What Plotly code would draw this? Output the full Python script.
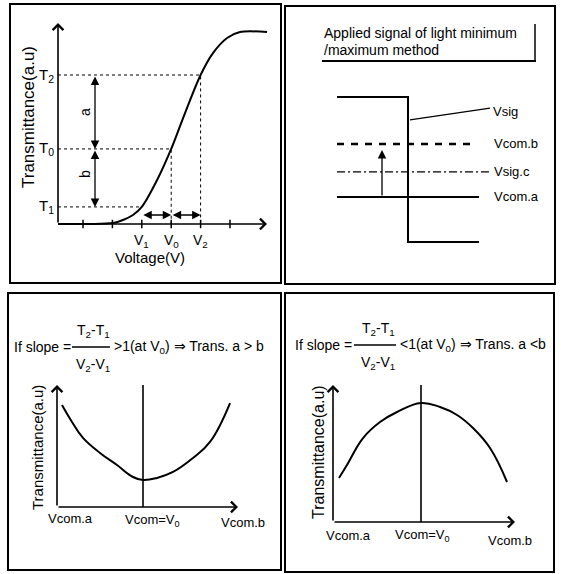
import plotly.graph_objects as go

W, H = 561, 574
FONT = "Liberation Sans, Arial, Helvetica, sans-serif"

# ---------------- data ----------------
# (a) transmittance-voltage curve
volt = [0.15, 1.2, 2.02, 2.36, 2.70, 3.0, 3.52, 4.0, 4.47, 5.0, 5.42, 5.90, 6.34, 7.26]
trans = [0.0, 0.0, 0.005, 0.021, 0.047, 0.089, 0.229, 0.391, 0.578, 0.776, 0.89, 0.969, 1.0, 1.0]
volt_ticks = [1, 2, 3, 4, 5, 6]
v_names = ["V<sub>1</sub>", "V<sub>0</sub>", "V<sub>2</sub>"]
v_vals = [3.0, 4.0, 5.0]
t_names = ["T<sub>1</sub>", "T<sub>0</sub>", "T<sub>2</sub>"]
t_vals = [0.089, 0.391, 0.776]

# (b) applied signal of light minimum / maximum method
sig_t = [0, 1, 1, 2]
sig_v = [1, 1, -1, -1]
level_names = ["Vcom.b", "Vsig.c", "Vcom.a"]
level_vals = [0.352, -0.034, -0.379]
level_ends = [1.92, 2.15, 2.0]
level_dash = ["7px,7px", "8px,3px,2px,3px", "solid"]
shift_t = 0.634
shift_tip = 0.269

# (c) slope > 1 : minimum at Vcom = V0
c_vcom = [-0.953, -0.835, -0.706, -0.506, -0.306, -0.118, 0.0, 0.165, 0.353, 0.588, 0.788, 1.024]
c_trans = [0.836, 0.697, 0.566, 0.443, 0.344, 0.246, 0.221, 0.238, 0.287, 0.402, 0.533, 0.852]

# (d) slope < 1 : maximum at Vcom = V0
d_vcom = [-0.965, -0.871, -0.682, -0.482, -0.282, 0.0, 0.224, 0.424, 0.612, 0.812, 1.012]
d_trans = [0.321, 0.416, 0.613, 0.730, 0.803, 0.869, 0.839, 0.781, 0.686, 0.540, 0.292]

vcom_labels = ["Vcom.a", "Vcom=V<sub>0</sub>", "Vcom.b"]
vcom_v0 = 0.0

# ---------------- layout helpers ----------------
# box = pixel box (x0, x1, y0, y1); xm / ym = (pixel_a, value_a, pixel_b, value_b)
panels = {
    "a": dict(ax="", box=(10, 281, 4, 283), xm=(83, 1, 230, 6), ym=(224, 0, 32, 1)),
    "b": dict(ax="2", box=(285, 555, 6, 284), xm=(337, 0, 408, 1), ym=(97, 1, 242, -1)),
    "c": dict(ax="3", box=(8, 281, 293, 570), xm=(143, 0, 228, 1), ym=(507, 0, 385, 1)),
    "d": dict(ax="4", box=(285, 554, 293, 572), xm=(421, 0, 506, 1), ym=(522, 0, 385, 1)),
}


def lin(p, m):
    pa, va, pb, vb = m
    return va + (p - pa) * (vb - va) / (pb - pa)


def X(k, px):
    return lin(px, panels[k]["xm"])


def Y(k, py):
    return lin(py, panels[k]["ym"])


fig = go.Figure()
layout = dict(width=W, height=H, margin=dict(l=0, r=0, t=0, b=0),
              paper_bgcolor="white", plot_bgcolor="white", showlegend=False,
              font=dict(family=FONT, color="black", size=14))
for k, p in panels.items():
    x0, x1, y0, y1 = p["box"]
    s = p["ax"]
    layout["xaxis" + s] = dict(domain=[x0 / W, x1 / W], range=[X(k, x0), X(k, x1)],
                               visible=False, fixedrange=True, anchor="y" + s)
    layout["yaxis" + s] = dict(domain=[1 - y1 / H, 1 - y0 / H], range=[Y(k, y1), Y(k, y0)],
                               visible=False, fixedrange=True, anchor="x" + s)
fig.update_layout(**layout)


def refs(k):
    s = panels[k]["ax"]
    return "x" + s, "y" + s


def line(k, xs, ys, width=2, dash="solid", shape="linear", smooth=0.9):
    xr, yr = refs(k)
    fig.add_trace(go.Scatter(x=xs, y=ys, mode="lines", xaxis=xr, yaxis=yr,
                             line=dict(color="black", width=width, dash=dash, shape=shape,
                                       smoothing=smooth if shape == "spline" else None),
                             hoverinfo="skip", cliponaxis=False))


def arrow(k, x0, y0, x1, y1, head=4, both=False, width=1.6, size=1.3):
    xr, yr = refs(k)
    fig.add_annotation(x=x1, y=y1, ax=x0, ay=y0, xref=xr, yref=yr, axref=xr, ayref=yr,
                       text="", showarrow=True, arrowhead=head, arrowsize=size,
                       arrowwidth=width, arrowcolor="black",
                       arrowside="end+start" if both else "end",
                       startarrowhead=head, startarrowsize=size, standoff=0, startstandoff=0)


def label(k, x, y, text, size=14, xanchor="center", angle=0):
    xr, yr = refs(k)
    fig.add_annotation(x=x, y=y, xref=xr, yref=yr, text=text, showarrow=False,
                       xanchor=xanchor, yanchor="middle", textangle=angle,
                       font=dict(family=FONT, size=size, color="black"))


def plabel(px, py, text, size=14, xanchor="center"):
    fig.add_annotation(x=px / W, y=1 - py / H, xref="paper", yref="paper", text=text,
                       showarrow=False, xanchor=xanchor, yanchor="middle",
                       font=dict(family=FONT, size=size, color="black"))


def pline(px0, py0, px1, py1, width=1.5):
    fig.add_shape(type="line", xref="paper", yref="paper", x0=px0 / W, y0=1 - py0 / H,
                  x1=px1 / W, y1=1 - py1 / H, line=dict(color="black", width=width))


# panel frames
for k in panels:
    xr, yr = refs(k)
    fig.add_shape(type="rect", xref=xr + " domain", yref=yr + " domain", x0=0, x1=1, y0=0, y1=1,
                  line=dict(color="black", width=2))

# ---------------- (a) ----------------
k = "a"
ox = volt[0]
# dashed guides
for v, t in zip(v_vals[1:], t_vals[1:]):
    line(k, [ox, v, v], [t, t, 0], width=1, dash="3px,3px")
line(k, [ox, v_vals[0]], [t_vals[0], t_vals[0]], width=1, dash="3px,3px")
# axes
arrow(k, ox, 0, ox, Y(k, 23))
arrow(k, ox, 0, X(k, 267), 0)
xr, yr = refs(k)
fig.add_trace(go.Scatter(x=volt_ticks, y=[0] * len(volt_ticks), mode="markers", xaxis=xr, yaxis=yr,
                         marker=dict(symbol="line-ns", size=6, line=dict(width=1.5, color="black")),
                         hoverinfo="skip", cliponaxis=False))
# curve
line(k, volt, trans, width=2, shape="spline")
# a / b double arrows
xa = X(k, 95)
arrow(k, xa, t_vals[2], xa, t_vals[1], head=2, both=True, width=1.3, size=1.3)
arrow(k, xa, t_vals[1], xa, t_vals[0], head=2, both=True, width=1.3, size=1.3)
label(k, X(k, 85), (t_vals[2] + t_vals[1]) / 2, "a", size=14, angle=-90)
label(k, X(k, 85), (t_vals[1] + t_vals[0]) / 2 + 0.02, "b", size=14, angle=-90)
# horizontal double arrows
ya = Y(k, 215)
arrow(k, v_vals[0], ya, v_vals[1], ya, head=2, both=True, width=1.3, size=1.3)
arrow(k, v_vals[1], ya, v_vals[2], ya, head=2, both=True, width=1.3, size=1.3)
for n, t in zip(t_names, t_vals):
    label(k, X(k, 46), t, n, size=15)
for n, v in zip(v_names, v_vals):
    label(k, v, Y(k, 241), n, size=14)
label(k, X(k, 150), Y(k, 257), "Voltage(V)", size=15)
label(k, X(k, 28), Y(k, 117), "Transmittance(a.u)", size=17, angle=-90)

# ---------------- (b) ----------------
k = "b"
plabel(322, 33, "Applied signal of light minimum", size=14, xanchor="left")
plabel(322, 50, "/maximum method", size=14, xanchor="left")
pline(322, 61, 536, 61, width=2)
pline(535, 24, 535, 61, width=1.5)
line(k, sig_t, sig_v, width=2)
for n, v, e, d in zip(level_names, level_vals, level_ends, level_dash):
    line(k, [0, e], [v, v], width=2 if d == "solid" else (2.4 if n == "Vcom.b" else 1.2), dash=d)
    label(k, X(k, 492), v, n, size=13, xanchor="left")
line(k, [1.028, 2.155], [0.683, 0.848], width=1.3)
label(k, X(k, 491), Y(k, 111), "Vsig", size=13, xanchor="left")
arrow(k, shift_t, level_vals[2], shift_t, shift_tip, head=2, width=1.3, size=1.3)

# ---------------- (c) & (d) ----------------
forms = {
    "c": dict(ifx=12, bar=(72, 110), num=93, py=347, tail=">1(at V<sub>0</sub>) ⇒ Trans. a > b",
              tailx=112, top=385, xend=238, yx=57, vt=1.0, lab=[(70, 518), (152, 520), (243, 522)],
              ttl=(37, 448, 15)),
    "d": dict(ifx=293, bar=(354, 396), num=378, py=345, tail="<1(at V<sub>0</sub>) ⇒ Trans. a <b",
              tailx=398, top=385, xend=515, yx=333, vt=1.0, lab=[(348, 535), (422, 535), (510, 540)],
              ttl=(318, 452, 16)),
}
curves = {"c": (c_vcom, c_trans), "d": (d_vcom, d_trans)}
for k, f in forms.items():
    py = f["py"]
    plabel(f["ifx"], py, "If slope =", size=14, xanchor="left")
    pline(f["bar"][0], py, f["bar"][1], py, width=1.3)
    plabel(f["num"], py - 16, "T<sub>2</sub>-T<sub>1</sub>", size=14)
    plabel(f["num"], py + 18, "V<sub>2</sub>-V<sub>1</sub>", size=14)
    plabel(f["tailx"], py, f["tail"], size=14, xanchor="left")
    yx = X(k, f["yx"])
    arrow(k, yx, 0, yx, Y(k, f["top"]))
    arrow(k, yx, 0, X(k, f["xend"]), 0)
    line(k, [vcom_v0, vcom_v0], [0, f["vt"]], width=1.6)
    cx, cy = curves[k]
    line(k, cx, cy, width=2, shape="spline", smooth=1.2)
    for n, (lx, ly) in zip(vcom_labels, f["lab"]):
        label(k, X(k, lx), Y(k, ly), n, size=13)
    tx, ty, ts = f["ttl"]
    label(k, X(k, tx), Y(k, ty), "Transmittance(a.u)", size=ts, angle=-90)

fig.write_html("out.html", config={"displayModeBar": False},
               post_script="document.body.style.margin='0';")
